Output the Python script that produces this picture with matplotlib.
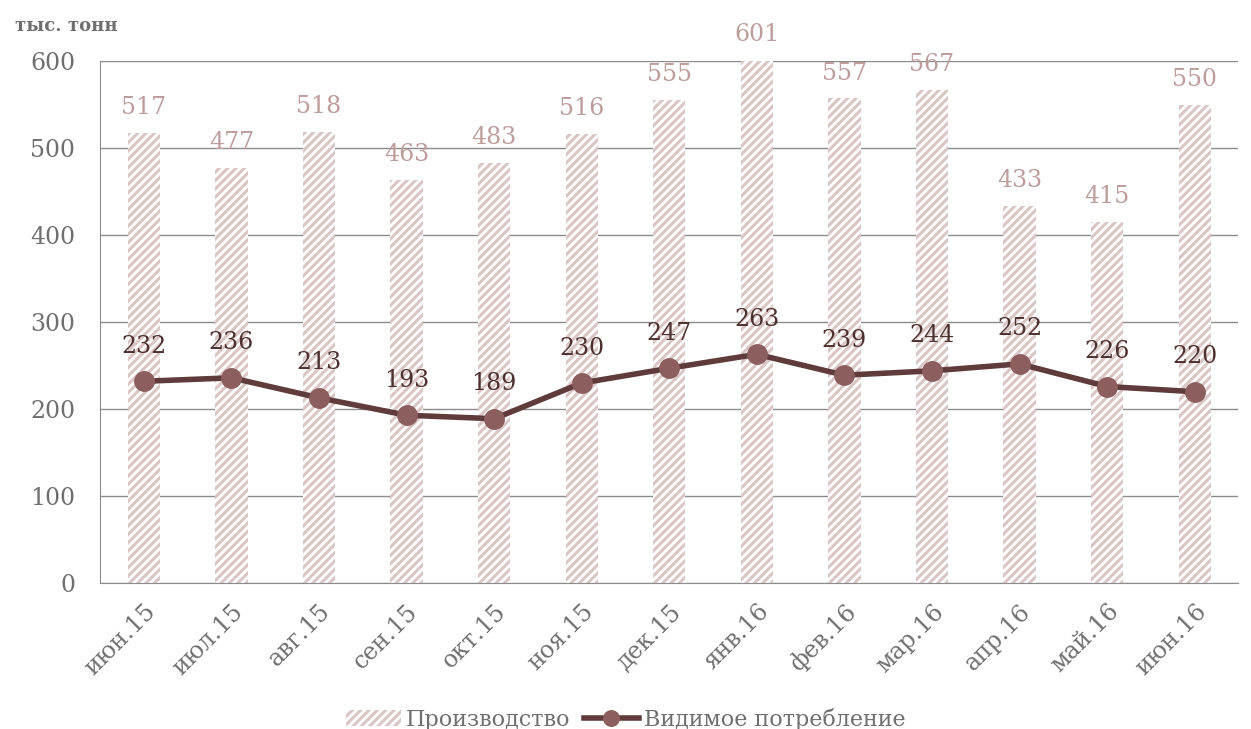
import matplotlib
matplotlib.use("Agg")
from matplotlib import pyplot as plt
import numpy as np

months = ["июн.15", "июл.15", "авг.15", "сен.15", "окт.15", "ноя.15", "дек.15",
          "янв.16", "фев.16", "мар.16", "апр.16", "май.16", "июн.16"]
production = [517, 477, 518, 463, 483, 516, 555, 601, 557, 567, 433, 415, 550]
consumption = [232, 236, 213, 193, 189, 230, 247, 263, 239, 244, 252, 226, 220]

plt.rcParams['font.family'] = ['DejaVu Serif']
plt.rcParams['hatch.linewidth'] = 2.0

bar_color = "#dbc6c6"
line_color = "#603b3b"
marker_color = "#8c5e5e"
gray = "#6f6f6f"

fig = plt.figure(figsize=(12.51, 7.29), dpi=100)
ax = fig.add_axes([0.08, 0.2, 0.91, 0.7163])

x = np.arange(len(months))
bars = ax.bar(x, production, width=0.37, color=bar_color, edgecolor="white",
              hatch="////", linewidth=0, label="Производство", zorder=2)
line, = ax.plot(x, consumption, color=line_color, linewidth=4, marker="o",
                markersize=14, markerfacecolor=marker_color, markeredgecolor=marker_color,
                label="Видимое потребление", zorder=3)

for i in range(len(months)):
    ax.text(x[i], production[i] + 16, str(production[i]), ha="center", va="bottom",
            fontsize=17, color="#bf9c9c")
    ax.text(x[i], consumption[i] + 27, str(consumption[i]), ha="center", va="bottom",
            fontsize=17, color="#4e3030", zorder=4)

ax.set_xlim(-0.5, len(months) - 0.5)
ax.set_ylim(0, 600)
ax.set_yticks(range(0, 601, 100))
ax.yaxis.grid(True, color="#8c8c8c", linewidth=1)
ax.set_axisbelow(True)
ax.set_xticks(x)
ax.set_xticklabels(months, rotation=45, ha="right", rotation_mode="anchor")
ax.tick_params(axis="y", length=0, labelsize=17, colors=gray, pad=18)
ax.tick_params(axis="x", length=0, labelsize=17, colors=gray, pad=12)

for s in ["top", "right"]:
    ax.spines[s].set_visible(False)
for s in ["left", "bottom"]:
    ax.spines[s].set_color("#8c8c8c")

fig.text(0.012, 0.965, "тыс. тонн", fontsize=13, fontweight="bold", color=gray,
         va="center")

leg = fig.legend([bars, line], ["Производство", "Видимое потребление"],
                 loc="lower center", bbox_to_anchor=(0.5, -0.03), ncol=2, frameon=False,
                 fontsize=16, handlelength=2.5, columnspacing=0.6, handletextpad=0.2,
                 markerscale=0.8)
for t in leg.get_texts():
    t.set_color(gray)

fig.savefig("out.png", dpi=100)
